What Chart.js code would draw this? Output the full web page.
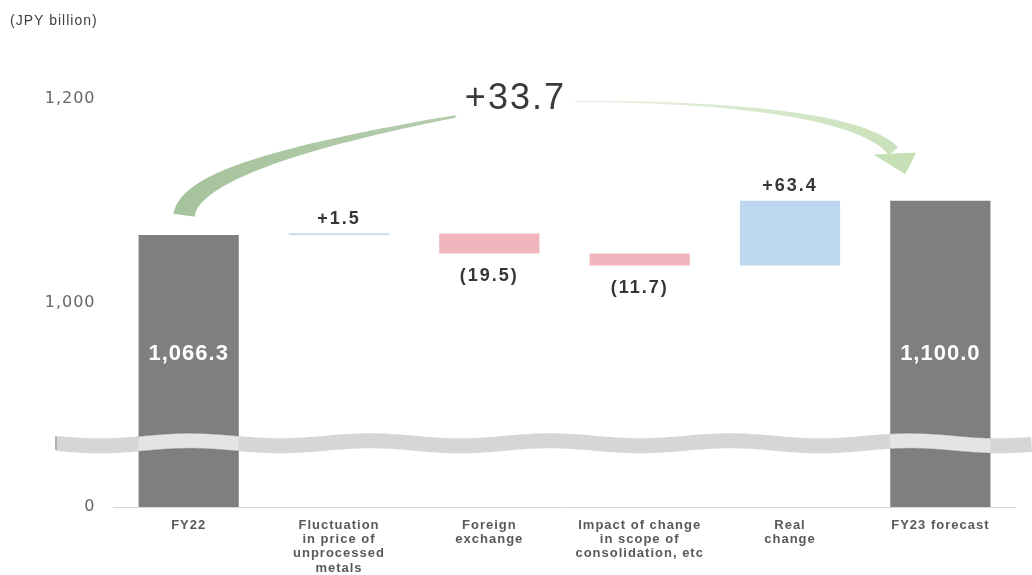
<!DOCTYPE html>
<html>
<head>
<meta charset="utf-8">
<script src="https://cdn.jsdelivr.net/npm/chart.js@4/dist/chart.umd.min.js"></script>
<style>
  html, body { margin: 0; padding: 0; background: #ffffff; }
  #wrap { position: relative; width: 1032px; height: 575px; }
  canvas { display: block; }
</style>
</head>
<body>
<div id="wrap"><canvas id="c" width="1032" height="575"></canvas></div>
<script>
// ---- data ----
const categories = [
  ["FY22"],
  ["Fluctuation", "in price of", "unprocessed", "metals"],
  ["Foreign", "exchange"],
  ["Impact of change", "in scope of", "consolidation, etc"],
  ["Real", "change"],
  ["FY23 forecast"]
];
const startValue = 1066.3;
const deltas = [1.5, -19.5, -11.7, 63.4];
const endValue = 1100.0;
const totalChange = 33.7;
const valueLabels = ["1,066.3", "+1.5", "(19.5)", "(11.7)", "+63.4", "1,100.0"];
const tickValues = [0, 1000, 1200];
const tickLabels = ["0", "1,000", "1,200"];
const unitLabel = "(JPY billion)";

// Broken axis: everything below 1,000 is squeezed 5x, above it runs 1:1
const AXIS_BREAK = 1000;
function toDisplay(v) {
  return v >= AXIS_BREAK ? v - (AXIS_BREAK - AXIS_BREAK * 0.2) : v * 0.2;
}

// floating ranges for the waterfall
const ranges = [];
const kinds = [];
ranges.push([toDisplay(0), toDisplay(startValue)]);
kinds.push('total');
let running = startValue;
deltas.forEach(d => {
  const next = running + d;
  ranges.push([toDisplay(running), toDisplay(next)]);
  kinds.push(d >= 0 ? 'up' : 'down');
  running = next;
});
ranges.push([toDisplay(0), toDisplay(endValue)]);
kinds.push('total');

const COLORS = { total: '#7f7f7f', up: '#bdd7ee', down: '#efb7bd' };

// ---- decorations: axis-break band, labels, change arrow ----
const decorations = {
  id: 'decorations',
  beforeDraw(chart) {
    chart.ctx.letterSpacing = '1px';
  },
  afterDatasetsDraw(chart) {
    const ctx = chart.ctx;
    const xs = chart.scales.x, ys = chart.scales.y;
    const meta = chart.getDatasetMeta(0);

    // wavy break band
    const bandY = ys.getPixelForValue(toDisplay(312));
    const x1 = 55, x2 = chart.width;
    const half = 7.5;
    const wave = x => bandY + 2.5 * Math.sin((x - x1) / 180 * 2 * Math.PI);
    function bandPath() {
      ctx.beginPath();
      for (let x = x1; x <= x2; x += 2) ctx.lineTo(x, wave(x) - half);
      for (let x = x2; x >= x1; x -= 2) ctx.lineTo(x, wave(x) + half);
      ctx.closePath();
    }
    ctx.save();
    bandPath();
    ctx.fillStyle = '#d6d6d6';
    ctx.fill();
    ctx.fillStyle = '#b0b0b0';
    ctx.fillRect(x1, wave(x1) - half + 1, 2, half * 2 - 2);
    ctx.restore();
    meta.data.forEach((bar, i) => {
      if (kinds[i] !== 'total') return;
      const w = bar.width;
      ctx.save();
      ctx.beginPath();
      ctx.rect(bar.x - w / 2, bar.y, w, bar.base - bar.y);
      ctx.clip();
      bandPath();
      ctx.fillStyle = '#e4e4e4';
      ctx.fill();
      ctx.strokeStyle = 'rgba(90,90,90,0.35)';
      ctx.lineWidth = 1;
      ctx.stroke();
      ctx.restore();
    });

    // value labels
    ctx.save();
    ctx.textAlign = 'center';
    meta.data.forEach((bar, i) => {
      const kind = kinds[i];
      if (kind === 'total') {
        ctx.font = 'bold 22px "Liberation Sans", Arial, sans-serif';
        ctx.fillStyle = '#ffffff';
        ctx.letterSpacing = '1px';
        ctx.textBaseline = 'middle';
        ctx.fillText(valueLabels[i], bar.x, ys.getPixelForValue(toDisplay(endValue) / 2));
      } else {
        ctx.font = 'bold 18px "Liberation Sans", Arial, sans-serif';
        ctx.fillStyle = '#363636';
        ctx.letterSpacing = '2px';
        const top = Math.min(bar.y, bar.base);
        const bottom = Math.max(bar.y, bar.base);
        if (kind === 'up') {
          ctx.textBaseline = 'alphabetic';
          ctx.fillText(valueLabels[i], bar.x, top - 10);
        } else {
          ctx.textBaseline = 'top';
          ctx.fillText(valueLabels[i], bar.x, bottom + 14);
        }
      }
    });
    ctx.restore();

    // unit caption
    ctx.save();
    ctx.font = '14px "Liberation Sans", Arial, sans-serif';
    ctx.letterSpacing = '1px';
    ctx.fillStyle = '#404040';
    ctx.textAlign = 'left';
    ctx.textBaseline = 'alphabetic';
    ctx.fillText(unitLabel, 10, 25);
    ctx.restore();

    // curved arrow from FY22 to FY23
    const X0 = xs.getPixelForValue(0);
    const X5 = xs.getPixelForValue(categories.length - 1);
    const W = X5 - X0;
    const y0 = ys.getPixelForValue(toDisplay(startValue));
    const yP = ys.getPixelForValue(toDisplay(1200)) + 3;
    const H = y0 - yP;
    const pt = (f, g) => [X0 + f * W, yP + g * H];

    function cubic(P, t) {
      const u = 1 - t;
      const a = u * u * u, b = 3 * u * u * t, c = 3 * u * t * t, d = t * t * t;
      return [a * P[0][0] + b * P[1][0] + c * P[2][0] + d * P[3][0],
              a * P[0][1] + b * P[1][1] + c * P[2][1] + d * P[3][1]];
    }
    function cubicD(P, t) {
      const u = 1 - t;
      return [3 * u * u * (P[1][0] - P[0][0]) + 6 * u * t * (P[2][0] - P[1][0]) + 3 * t * t * (P[3][0] - P[2][0]),
              3 * u * u * (P[1][1] - P[0][1]) + 6 * u * t * (P[2][1] - P[1][1]) + 3 * t * t * (P[3][1] - P[2][1])];
    }
    function strokeShape(P, widthAt, fill) {
      const n = 80, L = [], R = [];
      for (let k = 0; k <= n; k++) {
        const t = k / n;
        const p = cubic(P, t), d = cubicD(P, t);
        const len = Math.hypot(d[0], d[1]) || 1;
        const nx = -d[1] / len, ny = d[0] / len;
        const w = widthAt(t) / 2;
        L.push([p[0] + nx * w, p[1] + ny * w]);
        R.push([p[0] - nx * w, p[1] - ny * w]);
      }
      ctx.beginPath();
      L.forEach((q, k) => k ? ctx.lineTo(q[0], q[1]) : ctx.moveTo(q[0], q[1]));
      for (let k = R.length - 1; k >= 0; k--) ctx.lineTo(R[k][0], R[k][1]);
      ctx.closePath();
      ctx.fillStyle = fill;
      ctx.fill();
    }

    const left = [pt(-0.006, 0.851), pt(0.002, 0.522), pt(0.1876, 0.261), pt(0.4677, 0)];
    const right = [pt(0.4677, 0), pt(0.6806, -0.015), pt(0.8935, 0.075), pt(0.9374, 0.373)];

    ctx.save();
    const gl = ctx.createLinearGradient(left[0][0], 0, left[3][0], 0);
    gl.addColorStop(0, '#a7c39d');
    gl.addColorStop(1, '#b9cfb2');
    strokeShape(left, t => 1 + 21 * Math.pow(1 - t, 1.3), gl);

    const gr = ctx.createLinearGradient(right[0][0], 0, right[3][0], 0);
    gr.addColorStop(0, '#eef4ea');
    gr.addColorStop(1, '#c9e1ba');
    strokeShape(right, t => 1.2 + 11 * t * t, gr);

    // arrow head
    const h1 = pt(0.911, 0.396), h2 = pt(0.968, 0.381), tip = pt(0.9534, 0.545);
    ctx.beginPath();
    ctx.moveTo(h1[0], h1[1]);
    ctx.lineTo(h2[0], h2[1]);
    ctx.lineTo(tip[0], tip[1]);
    ctx.closePath();
    ctx.fillStyle = '#c6dfb5';
    ctx.fill();

    // change label sitting on the arrow
    const tx = X0 + 0.4347 * W;
    ctx.fillStyle = '#ffffff';
    ctx.fillRect(tx - 60, yP - 24, 119, 40);
    ctx.font = '36px "Liberation Sans", Arial, sans-serif';
    ctx.letterSpacing = '2px';
    ctx.fillStyle = '#3a3a3a';
    ctx.textAlign = 'center';
    ctx.textBaseline = 'alphabetic';
    ctx.fillText('+' + totalChange.toFixed(1), tx, yP + 7);
    ctx.restore();
  }
};

new Chart(document.getElementById('c'), {
  type: 'bar',
  data: {
    labels: categories,
    datasets: [{
      data: ranges,
      backgroundColor: kinds.map(k => COLORS[k]),
      borderWidth: 0,
      borderSkipped: false,
      barPercentage: 1,
      categoryPercentage: 100 / 150
    }]
  },
  options: {
    responsive: false,
    animation: false,
    layout: { padding: { top: 4, right: 16.5, left: 0, bottom: 0 } },
    plugins: { legend: { display: false }, tooltip: { enabled: false } },
    scales: {
      x: {
        grid: { display: false, drawTicks: false },
        border: { display: true, color: '#d9d9d9', width: 1 },
        ticks: {
          color: '#595959',
          padding: 11,
          maxRotation: 0,
          autoSkip: false,
          font: { family: '"Liberation Sans", Arial, sans-serif', size: 13, weight: 'bold', lineHeight: 1.1 }
        },
        afterFit: s => { s.height = 68; }
      },
      y: {
        min: 0,
        max: 469.5,
        grid: { display: false, drawTicks: false },
        border: { display: false },
        afterBuildTicks: s => { s.ticks = tickValues.map(v => ({ value: toDisplay(v) })); },
        ticks: {
          color: '#666666',
          padding: 18,
          font: { family: '"DejaVu Sans", sans-serif', size: 16 },
          callback: (val, i) => tickLabels[i]
        },
        afterFit: s => { s.width = 113.5; }
      }
    }
  },
  plugins: [decorations]
});
</script>
</body>
</html>
